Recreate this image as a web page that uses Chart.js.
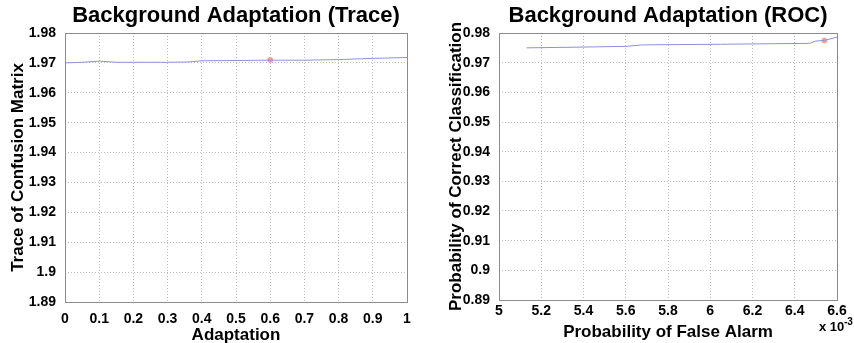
<!DOCTYPE html>
<html>
<head>
<meta charset="utf-8">
<script src="https://cdn.jsdelivr.net/npm/chart.js@4/dist/chart.umd.min.js"></script>
<style>
  body { margin: 0; background: #fff; }
  .wrap { position: absolute; top: 0; height: 343px; }
</style>
</head>
<body>
<div class="wrap" style="left:0;width:430px"><canvas id="traceChart"></canvas></div>
<div class="wrap" style="left:430px;width:424px"><canvas id="rocChart"></canvas></div>
<script>
// trace of confusion matrix vs adaptation
const traceX = [0, 0.05, 0.1, 0.15, 0.2, 0.3, 0.36, 0.4, 0.5, 0.6, 0.7, 0.8, 0.9, 1.0];
const traceY = [1.9700, 1.9702, 1.9706, 1.9702, 1.9702, 1.9702, 1.9703, 1.9707, 1.9708, 1.9709, 1.9709, 1.9711, 1.9715, 1.9718];
const traceMarkX = [0.6];
const traceMarkY = [1.9710];

// ROC: false alarm (x 10^-3) vs correct classification
const rocX = [5.13, 5.35, 5.6, 5.68, 6.05, 6.3, 6.47, 6.50, 6.54, 6.60];
const rocY = [0.9750, 0.9752, 0.9755, 0.9760, 0.9762, 0.9764, 0.9765, 0.9773, 0.9775, 0.9786];
const rocMarkX = [6.54];
const rocMarkY = [0.9775];

const FONT = "'Liberation Sans', Arial, sans-serif";
const lineColor = "#9090d8";
const markColor = "#f4a096";

function pts(xs, ys) {
  return xs.map((x, i) => ({ x: x, y: ys[i] }));
}

function fmt(v) {
  return String(Number(v.toFixed(4)));
}

// box round the plot area and the title centred over it, like matlab
const framePlugin = {
  id: "frame",
  afterDraw(chart, args, opts) {
    const a = chart.chartArea, ctx = chart.ctx;
    ctx.save();
    ctx.strokeStyle = "#8c8c8c";
    ctx.lineWidth = 1;
    ctx.strokeRect(a.left + 0.5, a.top + 0.5, a.right - a.left, a.bottom - a.top);
    ctx.fillStyle = "#000";
    ctx.font = "bold 22px " + FONT;
    ctx.textAlign = "center";
    ctx.textBaseline = "middle";
    ctx.fillText(opts.text, (a.left + a.right) / 2, 16);
    ctx.restore();
  }
};

function makeChart(id, cfg) {
  return new Chart(document.getElementById(id), {
    type: "scatter",
    data: {
      datasets: [{
        data: pts(cfg.xs, cfg.ys),
        showLine: true,
        borderColor: lineColor,
        borderWidth: 1,
        pointRadius: 0,
        fill: false
      }, {
        data: pts(cfg.mx, cfg.my),
        showLine: false,
        pointRadius: 2.5,
        pointBackgroundColor: markColor,
        pointBorderColor: markColor
      }]
    },
    options: {
      responsive: true,
      maintainAspectRatio: false,
      animation: false,
      layout: { padding: { right: cfg.padRight, left: 0, top: 33, bottom: 0 } },
      plugins: {
        legend: { display: false },
        tooltip: { enabled: false },
        title: { display: false },
        frame: { text: cfg.title }
      },
      scales: {
        x: {
          type: "linear",
          min: cfg.xMin, max: cfg.xMax,
          afterFit: s => { s.height = cfg.xHeight; },
          ticks: {
            stepSize: cfg.xStep,
            color: "#000",
            padding: cfg.xTickPad,
            maxRotation: 0,
            font: { family: FONT, size: 14, weight: "bold" },
            callback: v => fmt(v)
          },
          grid: { color: "#bdbdbd", borderDash: [1, 2], drawTicks: false },
          border: { display: false, dash: [1, 2] },
          title: {
            display: true,
            text: cfg.xTitle,
            color: "#000",
            font: { family: FONT, size: 17, weight: "bold" },
            padding: { top: 0, bottom: cfg.xTitlePad }
          }
        },
        y: {
          type: "linear",
          min: cfg.yMin, max: cfg.yMax,
          afterFit: s => { s.width = cfg.yWidth; },
          ticks: {
            stepSize: 0.01,
            color: "#000",
            padding: 9,
            font: { family: FONT, size: 14, weight: "bold" },
            callback: v => fmt(v)
          },
          grid: { color: "#bdbdbd", borderDash: [1, 2], drawTicks: false },
          border: { display: false, dash: [1, 2] },
          title: {
            display: true,
            text: cfg.yTitle,
            color: "#000",
            font: { family: FONT, size: 17, weight: "bold" },
            padding: { top: cfg.yTitlePad, bottom: 0 }
          }
        }
      }
    },
    plugins: [framePlugin].concat(cfg.extra || [])
  });
}

makeChart("traceChart", {
  xs: traceX, ys: traceY, mx: traceMarkX, my: traceMarkY,
  title: "Background Adaptation (Trace)",
  xTitle: "Adaptation",
  yTitle: "Trace of Confusion Matrix",
  xMin: 0, xMax: 1, xStep: 0.1,
  yMin: 1.89, yMax: 1.98,
  yWidth: 65, xHeight: 41, padRight: 23, yTitlePad: 8, xTitlePad: -3, xTickPad: 9
});

const exponentPlugin = {
  id: "exponent",
  afterDraw(chart) {
    const ctx = chart.ctx;
    ctx.save();
    ctx.fillStyle = "#000";
    ctx.textBaseline = "middle";
    ctx.textAlign = "left";
    ctx.font = "bold 13px " + FONT;
    ctx.fillText("x 10", 389, 327);
    ctx.font = "bold 10px " + FONT;
    ctx.fillText("-3", 414, 322);
    ctx.restore();
  }
};

makeChart("rocChart", {
  xs: rocX, ys: rocY, mx: rocMarkX, my: rocMarkY,
  title: "Background Adaptation (ROC)",
  xTitle: "Probability of False Alarm",
  yTitle: "Probability of Correct Classification",
  xMin: 5, xMax: 6.6, xStep: 0.2,
  yMin: 0.89, yMax: 0.98,
  yWidth: 69, xHeight: 43, padRight: 17, yTitlePad: 16, xTitlePad: 0, xTickPad: 3,
  extra: [exponentPlugin]
});
</script>
</body>
</html>
